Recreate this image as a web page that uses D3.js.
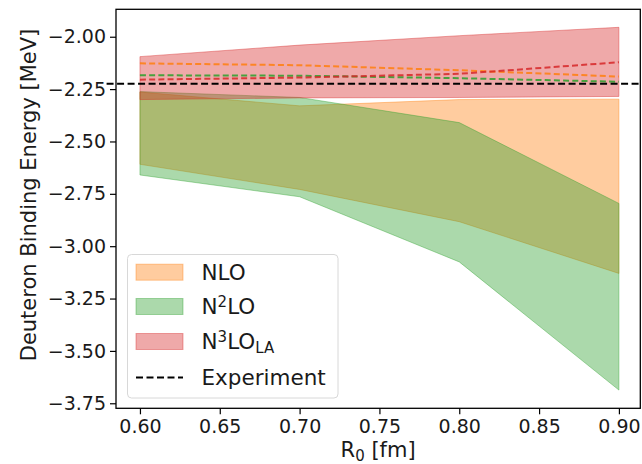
<!DOCTYPE html>
<html>
<head>
<meta charset="utf-8">
<script src="https://cdn.jsdelivr.net/npm/d3@7"></script>
<style>
  html, body { margin: 0; padding: 0; background: #fff; }
  svg { display: block; font-family: "DejaVu Sans", sans-serif; }
</style>
</head>
<body>
<svg id="chart" width="642" height="464"></svg>
<script>
// Regulator cutoff R0 [fm]
const r0 = [0.6, 0.7, 0.8, 0.9];

// NLO band and central values [MeV]
const nloLower   = [-2.609, -2.729, -2.883, -3.130];
const nloUpper   = [-2.264, -2.330, -2.300, -2.298];
const nloCentral = [-2.127, -2.136, -2.160, -2.190];

// N2LO band and central values [MeV]
const n2loLower   = [-2.660, -2.764, -3.075, -3.687];
const n2loUpper   = [-2.262, -2.290, -2.410, -2.796];
const n2loCentral = [-2.184, -2.186, -2.198, -2.215];

// N3LO (LA) band and central values [MeV]
const n3loLower   = [-2.300, -2.292, -2.290, -2.285];
const n3loUpper   = [-2.095, -2.040, -1.995, -1.955];
const n3loCentral = [-2.205, -2.195, -2.177, -2.122];

// Experimental deuteron binding energy and the R0 span of its reference line
const experiment = -2.2246;
const experimentSpan = [0.5791, 0.93];

const xTicks = [0.60, 0.65, 0.70, 0.75, 0.80, 0.85, 0.90];
const yTicks = [-2.00, -2.25, -2.50, -2.75, -3.00, -3.25, -3.50, -3.75];

const series = [
  { name: "NLO",  color: "#ff7f0e", lower: nloLower,  upper: nloUpper,  central: nloCentral },
  { name: "N2LO", color: "#2ca02c", lower: n2loLower, upper: n2loUpper, central: n2loCentral },
  { name: "N3LO", color: "#d62728", lower: n3loLower, upper: n3loUpper, central: n3loCentral }
];

const plot = { left: 116, right: 640.3, top: 9.3, bottom: 408.3 };

const x = d3.scaleLinear().domain([0.585, 0.9134]).range([plot.left, plot.right]);
const y = d3.scaleLinear().domain([-3.774, -1.869]).range([plot.bottom, plot.top]);

const svg = d3.select("#chart");

// Uncertainty bands
const area = d3.area()
  .x(d => x(d.r))
  .y0(d => y(d.lo))
  .y1(d => y(d.hi));

series.forEach(s => {
  const pts = r0.map((r, i) => ({ r, lo: s.lower[i], hi: s.upper[i] }));
  svg.append("path")
    .attr("d", area(pts))
    .attr("fill", s.color)
    .attr("fill-opacity", 0.4)
    .attr("stroke", s.color)
    .attr("stroke-opacity", 0.4)
    .attr("stroke-width", 1);
});

// Central values
const line = d3.line().x(d => x(d.r)).y(d => y(d.v));
series.forEach(s => {
  const pts = r0.map((r, i) => ({ r, v: s.central[i] }));
  svg.append("path")
    .attr("d", line(pts))
    .attr("fill", "none")
    .attr("stroke", s.color)
    .attr("stroke-opacity", 0.85)
    .attr("stroke-width", 2)
    .attr("stroke-dasharray", "6,3.2");
});

// Experimental value
svg.append("path")
  .attr("d", line(experimentSpan.map(r => ({ r, v: experiment }))))
  .attr("fill", "none")
  .attr("stroke", "#000")
  .attr("stroke-width", 2)
  .attr("stroke-dasharray", "7,3.5");

// Axes
const fontTick = 19;
const xAxis = d3.axisBottom(x).tickValues(xTicks).tickFormat(d3.format(".2f")).tickSize(6).tickPadding(5);
const yAxis = d3.axisLeft(y).tickValues(yTicks).tickFormat(d3.format(".2f")).tickSize(6).tickPadding(4);

const gx = svg.append("g").attr("transform", `translate(0,${plot.bottom})`).call(xAxis);
const gy = svg.append("g").attr("transform", `translate(${plot.left},0)`).call(yAxis);
[gx, gy].forEach(g => {
  g.select(".domain").remove();
  g.selectAll(".tick line").attr("stroke", "#000").attr("stroke-width", 1.2);
  g.selectAll(".tick text")
    .attr("fill", "#1a1a1a")
    .style("font-size", fontTick + "px")
    .style("font-family", "DejaVu Sans, sans-serif");
});

// Frame
svg.append("rect")
  .attr("x", plot.left).attr("y", plot.top)
  .attr("width", plot.right - plot.left).attr("height", plot.bottom - plot.top)
  .attr("fill", "none").attr("stroke", "#000").attr("stroke-width", 1.3);

// Axis labels
const xl = svg.append("text")
  .attr("x", (plot.left + plot.right) / 2)
  .attr("y", 457)
  .attr("text-anchor", "middle")
  .style("font-size", "21px")
  .attr("fill", "#1a1a1a");
xl.append("tspan").text("R");
xl.append("tspan").attr("baseline-shift", "-25%").style("font-size", "15px").text("0");
xl.append("tspan").text(" [fm]");

svg.append("text")
  .attr("transform", "translate(36,195) rotate(-90)")
  .attr("text-anchor", "middle")
  .style("font-size", "21px")
  .attr("fill", "#1a1a1a")
  .text("Deuteron Binding Energy [MeV]");

// Legend
const legend = svg.append("g");
legend.append("rect")
  .attr("x", 127.5).attr("y", 254.5)
  .attr("width", 210.5).attr("height", 143.5)
  .attr("rx", 4).attr("ry", 4)
  .attr("fill", "#fff").attr("fill-opacity", 0.8)
  .attr("stroke", "#d8d8d8").attr("stroke-width", 1);

const legendRows = [
  { cy: 272.2, type: "band", color: "#ff7f0e", label: [["NLO", null]] },
  { cy: 306.5, type: "band", color: "#2ca02c", label: [["N", null], ["2", "sup"], ["LO", null]] },
  { cy: 341.5, type: "band", color: "#d62728", label: [["N", null], ["3", "sup"], ["LO", null], ["LA", "sub"]] },
  { cy: 377.5, type: "line", color: "#000", label: [["Experiment", null]] }
];

legendRows.forEach(row => {
  if (row.type === "band") {
    legend.append("rect")
      .attr("x", 136).attr("y", row.cy - 8)
      .attr("width", 47).attr("height", 16)
      .attr("fill", row.color).attr("fill-opacity", 0.4)
      .attr("stroke", row.color).attr("stroke-opacity", 0.4);
  } else {
    legend.append("line")
      .attr("x1", 136).attr("x2", 183)
      .attr("y1", row.cy).attr("y2", row.cy)
      .attr("stroke", row.color).attr("stroke-width", 2)
      .attr("stroke-dasharray", "7,3.5");
  }
  const t = legend.append("text")
    .attr("x", 201.5).attr("y", row.cy + 7.5)
    .style("font-size", "21.5px")
    .attr("fill", "#1a1a1a");
  row.label.forEach(([txt, kind]) => {
    const sp = t.append("tspan").text(txt);
    if (kind === "sup") sp.attr("baseline-shift", "45%").style("font-size", "15px");
    if (kind === "sub") sp.attr("baseline-shift", "-25%").style("font-size", "15px");
  });
});
</script>
</body>
</html>
